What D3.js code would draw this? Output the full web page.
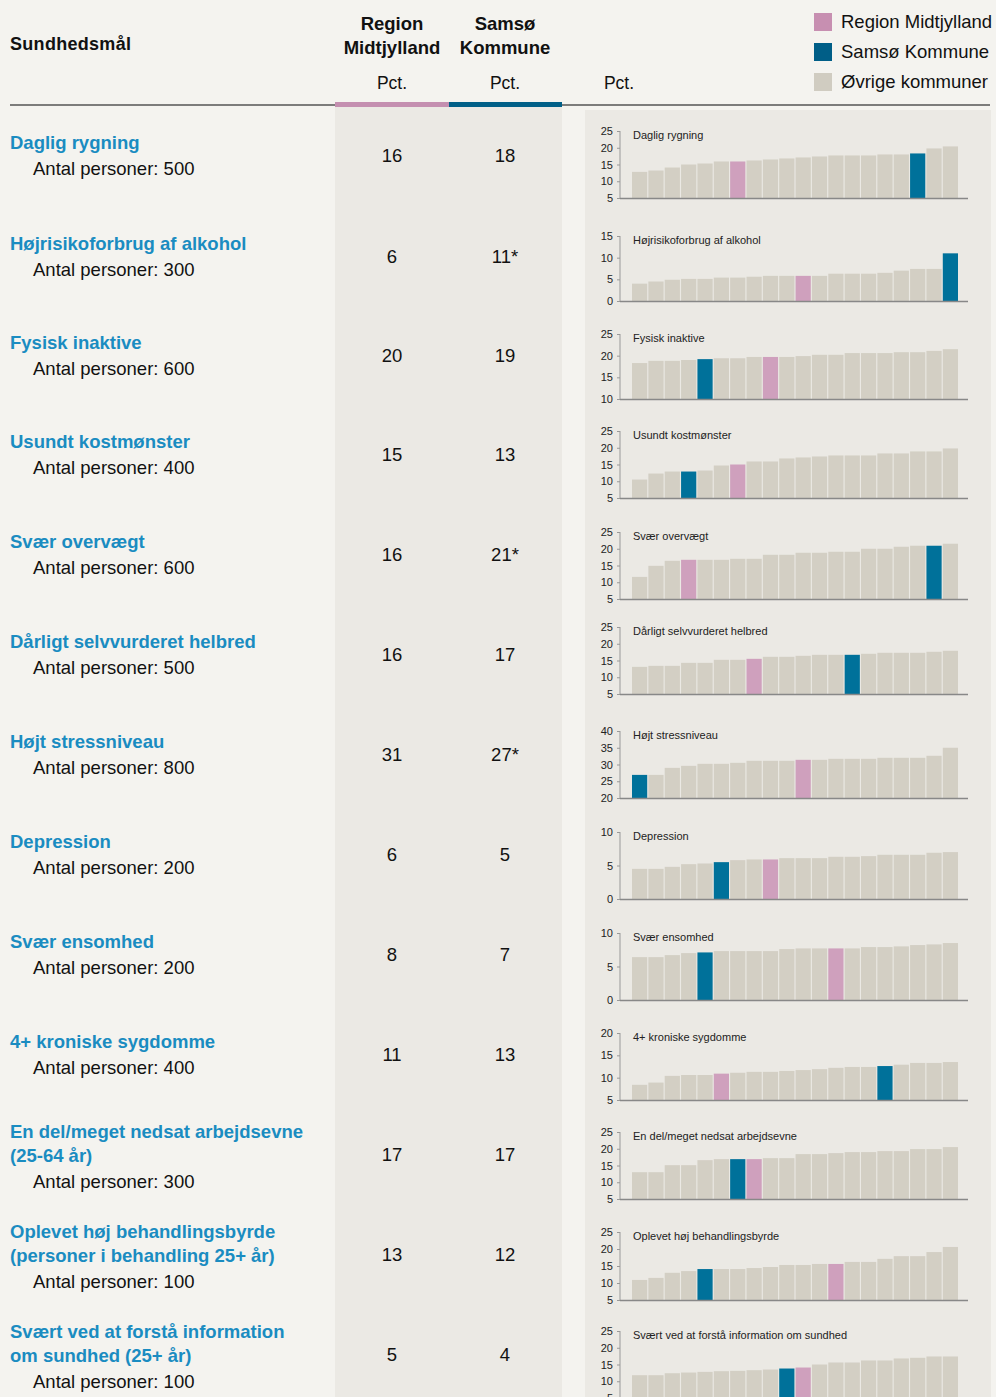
<!DOCTYPE html>
<html>
<head>
<meta charset="utf-8">
<script src="https://cdn.jsdelivr.net/npm/d3@7"></script>
<style>
  body { margin: 0; background: #f4f3ef; font-family: "Liberation Sans", Arial, sans-serif; }
  svg { display: block; }
</style>
</head>
<body>
<div id="chart"></div>
<script>
// row labels (left column)
const titles = [
  ["Daglig rygning"],
  ["Højrisikoforbrug af alkohol"],
  ["Fysisk inaktive"],
  ["Usundt kostmønster"],
  ["Svær overvægt"],
  ["Dårligt selvvurderet helbred"],
  ["Højt stressniveau"],
  ["Depression"],
  ["Svær ensomhed"],
  ["4+ kroniske sygdomme"],
  ["En del/meget nedsat arbejdsevne", "(25-64 år)"],
  ["Oplevet høj behandlingsbyrde", "(personer i behandling 25+ år)"],
  ["Svært ved at forstå information", "om sundhed (25+ år)"]
];
const antal = [500, 300, 600, 400, 600, 500, 800, 200, 200, 400, 300, 100, 100];
const regionPct = ["16", "6", "20", "15", "16", "16", "31", "6", "8", "11", "17", "13", "5"];
const samsoPct = ["18", "11*", "19", "13", "21*", "17", "27*", "5", "7", "13", "17", "12", "4"];

// small charts
const miniTitles = [
  "Daglig rygning", "Højrisikoforbrug af alkohol", "Fysisk inaktive", "Usundt kostmønster",
  "Svær overvægt", "Dårligt selvvurderet helbred", "Højt stressniveau", "Depression",
  "Svær ensomhed", "4+ kroniske sygdomme", "En del/meget nedsat arbejdsevne",
  "Oplevet høj behandlingsbyrde", "Svært ved at forstå information om sundhed"
];
const yDomains = [[5, 25], [0, 15], [10, 25], [5, 25], [5, 25], [5, 25], [20, 40], [0, 10], [0, 10], [5, 20], [5, 25], [5, 25], [5, 25]];
// position of Region Midtjylland / Samsø bar among the 20 bars
const regionPos = [6, 10, 8, 6, 3, 7, 10, 8, 12, 5, 7, 12, 10];
const samsoPos = [17, 19, 4, 3, 18, 13, 0, 5, 4, 15, 6, 4, 9];
const barValues = [
  [12.8, 13.2, 14.1, 15.0, 15.3, 15.9, 15.9, 16.2, 16.5, 16.8, 17.1, 17.4, 17.7, 17.7, 17.7, 18.0, 18.0, 18.3, 19.8, 20.4],
  [4.0, 4.5, 4.9, 5.1, 5.1, 5.4, 5.4, 5.6, 5.8, 5.8, 5.8, 5.8, 6.3, 6.3, 6.3, 6.5, 7.0, 7.4, 7.4, 11.0],
  [18.3, 18.8, 18.8, 19.0, 19.2, 19.4, 19.4, 19.7, 19.7, 19.7, 19.9, 20.2, 20.2, 20.6, 20.6, 20.6, 20.8, 20.8, 21.1, 21.5],
  [10.5, 12.3, 12.9, 12.9, 13.2, 14.7, 15.0, 15.9, 15.9, 16.8, 17.1, 17.4, 17.7, 17.7, 17.7, 18.3, 18.3, 18.9, 18.9, 19.8],
  [11.6, 14.9, 16.4, 16.7, 16.7, 16.7, 17.0, 17.0, 18.2, 18.2, 18.8, 18.8, 19.1, 19.1, 20.0, 20.0, 20.6, 20.9, 20.9, 21.5],
  [13.1, 13.4, 13.4, 14.3, 14.3, 15.2, 15.2, 15.5, 16.1, 16.1, 16.4, 16.7, 16.7, 16.7, 17.0, 17.3, 17.3, 17.3, 17.6, 17.9],
  [26.9, 26.9, 29.0, 29.6, 30.2, 30.2, 30.5, 31.1, 31.1, 31.1, 31.4, 31.4, 31.7, 31.7, 31.7, 32.0, 32.0, 32.0, 32.6, 35.0],
  [4.5, 4.5, 4.8, 5.2, 5.3, 5.5, 5.8, 5.9, 5.9, 6.1, 6.1, 6.1, 6.3, 6.3, 6.4, 6.6, 6.6, 6.6, 6.9, 7.0],
  [6.4, 6.4, 6.7, 7.0, 7.1, 7.3, 7.3, 7.3, 7.3, 7.6, 7.7, 7.7, 7.7, 7.7, 7.9, 7.9, 8.0, 8.2, 8.3, 8.5],
  [8.4, 8.9, 10.4, 10.6, 10.6, 10.9, 11.1, 11.3, 11.3, 11.5, 11.7, 11.9, 12.2, 12.4, 12.4, 12.6, 12.9, 13.3, 13.3, 13.5],
  [13.0, 13.0, 15.1, 15.1, 16.6, 16.9, 16.9, 16.9, 17.2, 17.2, 18.4, 18.4, 18.7, 19.0, 19.0, 19.3, 19.3, 19.9, 19.9, 20.5],
  [10.9, 11.5, 13.0, 13.5, 14.1, 14.1, 14.1, 14.4, 14.7, 15.3, 15.3, 15.6, 15.6, 16.2, 16.2, 17.1, 17.9, 17.9, 19.1, 20.6],
  [11.8, 11.8, 12.4, 12.6, 12.8, 13.0, 13.1, 13.3, 13.5, 13.8, 14.1, 15.0, 15.6, 15.6, 16.2, 16.2, 16.8, 17.0, 17.4, 17.4]
];
const legendLabels = ["Region Midtjylland", "Samsø Kommune", "Øvrige kommuner"];

const W = 996, H = 1397;
const pink = "#cfa0bd", blue = "#00719a", grey = "#d3cfc4";
const titleBlue = "#1a8cc1";

// vertical placement of each row and of each small chart
const rowCenters = [155, 256, 355, 454, 554, 654, 754, 854, 954, 1054, 1154, 1254, 1354];
const chartTops = [131, 236, 334, 431, 532, 627, 731, 832, 933, 1033, 1132, 1232, 1331];
const chartBottoms = [198, 301, 399, 498, 599, 694, 798, 899, 1000, 1100, 1199, 1300, 1398];

const svg = d3.select("#chart").append("svg").attr("width", W).attr("height", H);
svg.append("rect").attr("width", W).attr("height", H).attr("fill", "#f4f3ef");

// panels
svg.append("rect").attr("x", 335).attr("y", 107).attr("width", 227).attr("height", H).attr("fill", "#ebe9e4");
svg.append("rect").attr("x", 585).attr("y", 110).attr("width", 406).attr("height", H).attr("fill", "#ebe9e4");

// header
svg.append("text").attr("x", 10).attr("y", 50).attr("font-size", 18).attr("font-weight", "bold")
  .attr("fill", "#111").attr("textLength", 121).text("Sundhedsmål");
[["Region", "Midtjylland", 392], ["Samsø", "Kommune", 505]].forEach((d) => {
  const t = svg.append("text").attr("text-anchor", "middle").attr("font-size", 18.5)
    .attr("font-weight", "bold").attr("fill", "#111");
  t.append("tspan").attr("x", d[2]).attr("y", 30).text(d[0]);
  t.append("tspan").attr("x", d[2]).attr("y", 54).text(d[1]);
});
[392, 505, 619].forEach((x) => {
  svg.append("text").attr("x", x).attr("y", 89).attr("text-anchor", "middle")
    .attr("font-size", 17.5).attr("fill", "#111").text("Pct.");
});
svg.append("line").attr("x1", 10).attr("x2", 990).attr("y1", 105).attr("y2", 105)
  .attr("stroke", "#555").attr("stroke-width", 1.5);
svg.append("rect").attr("x", 335).attr("y", 102).attr("width", 114).attr("height", 5).attr("fill", "#c48fb0");
svg.append("rect").attr("x", 449).attr("y", 102).attr("width", 113).attr("height", 5).attr("fill", "#005f87");

// legend
const legendColors = ["#c78fb1", "#005e87", "#d0ccc1"];
legendLabels.forEach((l, i) => {
  svg.append("rect").attr("x", 814).attr("y", 13 + i * 30).attr("width", 18).attr("height", 18)
    .attr("fill", legendColors[i]);
  svg.append("text").attr("x", 841).attr("y", 28 + i * 30).attr("font-size", 18.5)
    .attr("fill", "#111").text(l);
});

// rows
const x = d3.scaleBand().domain(d3.range(20)).range([632, 958]).paddingInner(0.07);

titles.forEach((t, i) => {
  const cy = rowCenters[i];
  const two = t.length > 1;
  const ty = two ? cy - 22 : cy - 12;
  t.forEach((line, j) => {
    svg.append("text").attr("x", 10).attr("y", ty + j * 24 + 6).attr("font-size", 18.5)
      .attr("font-weight", "bold").attr("fill", titleBlue).text(line);
  });
  svg.append("text").attr("x", 33).attr("y", (two ? cy + 28 : cy + 14) + 6).attr("font-size", 18.5)
    .attr("fill", "#111").text("Antal personer: " + antal[i]);
  svg.append("text").attr("x", 392).attr("y", cy + 7).attr("text-anchor", "middle")
    .attr("font-size", 18.5).attr("fill", "#111").text(regionPct[i]);
  svg.append("text").attr("x", 505).attr("y", cy + 7).attr("text-anchor", "middle")
    .attr("font-size", 18.5).attr("fill", "#111").text(samsoPct[i]);

  // mini chart
  const top = chartTops[i], bottom = chartBottoms[i];
  const dom = yDomains[i];
  const y = d3.scaleLinear().domain(dom).range([bottom, top]);
  const g = svg.append("g");
  const data = barValues[i].map((v, k) => ({ v: v, k: k }));
  g.selectAll("rect").data(data).enter().append("rect")
    .attr("x", (d) => x(d.k))
    .attr("width", x.bandwidth())
    .attr("y", (d) => y(d.v))
    .attr("height", (d) => bottom - y(d.v))
    .attr("fill", (d) => d.k === regionPos[i] ? pink : d.k === samsoPos[i] ? blue : grey);

  const ax = g.append("g").attr("transform", "translate(620,0)")
    .call(d3.axisLeft(y).tickValues(d3.range(dom[0], dom[1] + 1, 5)).tickSize(3).tickPadding(4));
  ax.select(".domain").attr("stroke", "#999").attr("d", `M-0,${top}V${bottom}`);
  ax.selectAll(".tick line").attr("stroke", "#999");
  ax.selectAll(".tick text").attr("font-family", "Liberation Sans, Arial, sans-serif")
    .attr("font-size", 11).attr("fill", "#222");

  g.append("line").attr("x1", 620).attr("x2", 968).attr("y1", bottom + 0.5).attr("y2", bottom + 0.5)
    .attr("stroke", "#888").attr("stroke-width", 1.3);
  g.append("text").attr("x", 633).attr("y", top + 8).attr("font-size", 11).attr("fill", "#222")
    .text(miniTitles[i]);
});
</script>
</body>
</html>
